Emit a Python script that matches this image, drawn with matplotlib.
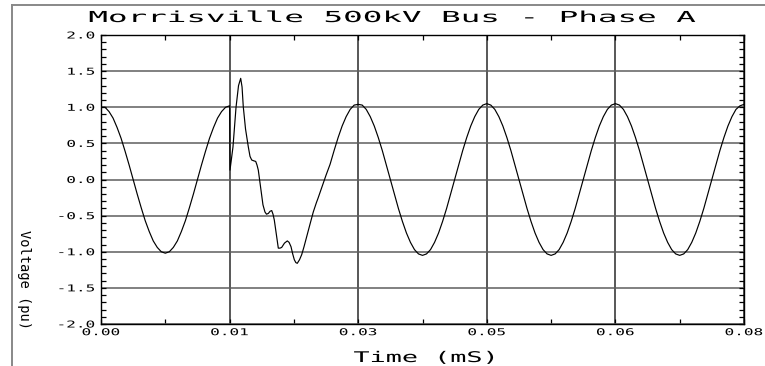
import numpy as np
import matplotlib
matplotlib.use('Agg')
import matplotlib.pyplot as plt
from matplotlib import patheffects
from matplotlib.lines import Line2D
from matplotlib.ticker import FixedLocator, FixedFormatter, MultipleLocator
from matplotlib.transforms import Affine2D

# ---- data ----
dt = 0.0005  # sample spacing of the steady-state parts (s)

# before the fault, t = 0 .. 0.016
pre_start = 0.0
pre_v = [1.00, 1.00, 0.94, 0.85, 0.72, 0.57, 0.39, 0.20, 0.00, -0.20, -0.39,
         -0.57, -0.72, -0.85, -0.94, -1.00, -1.02, -1.00, -0.94, -0.85, -0.72,
         -0.57, -0.39, -0.20, 0.00, 0.20, 0.39, 0.57, 0.72, 0.85, 0.94, 1.00, 1.02]

# the transient
fault_t = [0.01605, 0.01642, 0.01680, 0.01711, 0.01738, 0.01755, 0.01770, 0.01798,
           0.01833, 0.01854, 0.01875, 0.01897, 0.01925, 0.01941, 0.01957, 0.01991,
           0.02015, 0.02040, 0.02059, 0.02082, 0.02103, 0.02124, 0.02140, 0.02156,
           0.02184, 0.02206, 0.02227, 0.02248, 0.02283, 0.02318, 0.02340, 0.02364,
           0.02385, 0.02405, 0.02424, 0.02442, 0.02470, 0.02497, 0.02526, 0.02559,
           0.02600, 0.02641, 0.02680]
fault_v = [0.13, 0.45, 1.00, 1.30, 1.40, 1.28, 1.01, 0.70,
           0.45, 0.32, 0.27, 0.26, 0.25, 0.20, 0.13, -0.15,
           -0.35, -0.45, -0.48, -0.47, -0.44, -0.43, -0.48, -0.56,
           -0.78, -0.95, -0.95, -0.94, -0.88, -0.85, -0.87, -0.93,
           -1.03, -1.11, -1.15, -1.16, -1.11, -1.04, -0.93, -0.79,
           -0.62, -0.45, -0.32]

# after the fault, t = 0.027 .. 0.080
post_start = 0.0270
post_v = [-0.26, -0.10, 0.06, 0.21, 0.40, 0.58, 0.74, 0.87, 0.97, 1.03, 1.04,
          1.03, 0.97, 0.87, 0.74, 0.58, 0.40, 0.20, 0.00, -0.20, -0.40, -0.58,
          -0.74, -0.87, -0.97, -1.03, -1.05, -1.03, -0.97, -0.87, -0.74, -0.58,
          -0.40, -0.20, 0.00, 0.20, 0.40, 0.58, 0.74, 0.87, 0.97, 1.03, 1.05,
          1.03, 0.97, 0.87, 0.74, 0.58, 0.40, 0.20, 0.00, -0.20, -0.40, -0.58,
          -0.74, -0.87, -0.97, -1.03, -1.05, -1.03, -0.97, -0.87, -0.74, -0.58,
          -0.40, -0.20, 0.00, 0.20, 0.40, 0.58, 0.74, 0.87, 0.97, 1.03, 1.05,
          1.03, 0.97, 0.87, 0.74, 0.58, 0.40, 0.20, 0.00, -0.20, -0.40, -0.58,
          -0.74, -0.87, -0.97, -1.03, -1.05, -1.03, -0.97, -0.87, -0.74, -0.58,
          -0.40, -0.20, 0.00, 0.20, 0.40, 0.58, 0.74, 0.87, 0.97, 1.02, 1.04]

x_ticks = [0.0, 0.016, 0.032, 0.048, 0.064, 0.08]
x_labels = ['0.00', '0.01', '0.03', '0.05', '0.06', '0.08']
y_ticks = [-2.0, -1.5, -1.0, -0.5, 0.0, 0.5, 1.0, 1.5, 2.0]
y_labels = ['-2.0', '-1.5', '-1.0', '-0.5', '0.0', '0.5', '1.0', '1.5', '2.0']

title = 'Morrisville 500kV Bus - Phase A'
xlabel = 'Time (mS)'
ylabel = 'Voltage (pu)'


class Stretch(patheffects.AbstractPathEffect):
    """Widen text glyphs horizontally (the original uses a very wide font)."""
    def __init__(self, sx, anchor='center'):
        super().__init__()
        self.sx = sx
        self.anchor = anchor

    def draw_path(self, renderer, gc, tpath, affine, rgbFace=None):
        ext = tpath.get_extents()
        x0 = {'left': ext.x0, 'center': (ext.x0 + ext.x1) / 2, 'right': ext.x1}[self.anchor]
        st = Affine2D().translate(-x0, 0).scale(self.sx, 1).translate(x0, 0)
        renderer.draw_path(gc, tpath, st + affine, rgbFace)


plt.rcParams['font.family'] = 'DejaVu Sans Mono'

t = np.concatenate([pre_start + np.arange(len(pre_v)) * dt,
                    fault_t,
                    post_start + np.arange(len(post_v)) * dt])
v = np.concatenate([pre_v, fault_v, post_v])

W, H = 765, 366
fig = plt.figure(figsize=(W / 100, H / 100), dpi=100)
ax = fig.add_axes([101 / W, 1 - 324 / H, 643 / W, 289 / H])

ax.plot(t, v, color='black', lw=0.85)

ax.set_xlim(0, 0.08)
ax.set_ylim(-2, 2)
ax.xaxis.set_major_locator(FixedLocator(x_ticks))
ax.xaxis.set_major_formatter(FixedFormatter(x_labels))
ax.yaxis.set_major_locator(FixedLocator(y_ticks))
ax.yaxis.set_major_formatter(FixedFormatter(y_labels))
ax.xaxis.set_minor_locator(MultipleLocator(0.008))
ax.yaxis.set_minor_locator(MultipleLocator(0.1))

ax.grid(axis='y', which='major', color='#5e5e5e', lw=1.1)
ax.grid(axis='x', which='major', color='#2a2a2a', lw=1.1)
ax.tick_params(which='both', direction='in', top=True, right=True,
               length=3.6, width=0.9, color='black')
ax.tick_params(axis='y', which='major', pad=4.3, labelsize=6.8)
ax.tick_params(axis='x', which='major', pad=3.0, labelsize=6.8)
for sp in ax.spines.values():
    sp.set_linewidth(1.0)

for tk in ax.xaxis.get_major_ticks():
    tk.label1.set_path_effects([Stretch(1.7, 'center')])
for tk in ax.yaxis.get_major_ticks():
    tk.label1.set_path_effects([Stretch(1.7, 'right')])

fig.text(392.5 / W, 1 - 22 / H, title, ha='center', va='baseline', fontsize=10.9,
         path_effects=[Stretch(2.15)])
fig.text(425 / W, 1 - 362 / H, xlabel, ha='center', va='baseline', fontsize=10.6,
         path_effects=[Stretch(1.82)])
fig.text(24 / W, 1 - 279 / H, ylabel, ha='center', va='center', rotation=270,
         fontsize=9.9)

# page frame (top and left edges visible)
fig.add_artist(Line2D([12 / W, 1], [1 - 5 / H, 1 - 5 / H], transform=fig.transFigure,
                      color='#888888', lw=1.4))
fig.add_artist(Line2D([12 / W, 12 / W], [0, 1 - 5 / H], transform=fig.transFigure,
                      color='#888888', lw=1.4))

fig.savefig('out.png', dpi=100)
